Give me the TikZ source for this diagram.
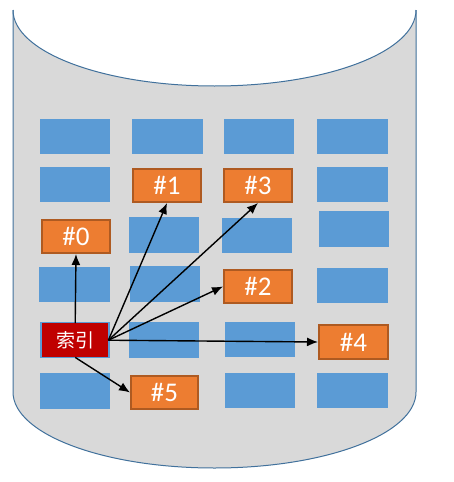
\documentclass[tikz,border=0pt]{standalone}
\usepackage{fontspec}
\setmainfont{Carlito}
\newfontfamily\cjk{Noto Sans CJK SC}
\usetikzlibrary{arrows.meta}
\definecolor{cylgray}{HTML}{D9D9D9}
\definecolor{cylline}{HTML}{41719C}
\definecolor{blk}{HTML}{5B9BD5}
\definecolor{org}{HTML}{ED7D31}
\definecolor{orgline}{HTML}{AE5A21}
\definecolor{idxred}{HTML}{C00000}
\tikzset{
  cell/.style={fill=blk, draw=none, anchor=north west, inner sep=0pt, minimum width=70pt, minimum height=35pt},
  hit/.style={fill=org, draw=orgline, line width=2pt, anchor=north west, inner sep=0pt, minimum width=68pt, minimum height=33pt, text=white, font=\fontsize{27}{30}\selectfont},
  idxbox/.style={fill=idxred, draw=none, anchor=north west, inner sep=0pt, minimum width=66pt, minimum height=34pt, text=white, font=\cjk\fontsize{19}{22}\selectfont},
  ptr/.style={-{Latex[length=11pt,width=9pt]}, line width=1.4pt, black}
}
\begin{document}
\begin{tikzpicture}[x=1pt,y=-1pt]
\useasboundingbox (0,0) rectangle (453,482);
% cylinder
\fill[cylgray] (13,10) -- (13,392) arc[start angle=180,end angle=360,x radius=201.5pt,y radius=76pt] -- (416,10) arc[start angle=0,end angle=-180,x radius=201.5pt,y radius=76pt] -- cycle;
\draw[cylline, line width=1pt] (13,10) -- (13,392) arc[start angle=180,end angle=360,x radius=201.5pt,y radius=76pt] -- (416,10);
\draw[cylline, line width=1pt] (416,10) arc[start angle=0,end angle=-180,x radius=201.5pt,y radius=76pt];
% row 1
\node[cell] (c11) at (40,119) {};
\node[cell, minimum width=71pt] (c12) at (132,119) {};
\node[cell] (c13) at (224,119) {};
\node[cell, minimum width=71pt] (c14) at (317,119) {};
% row 2
\node[cell] (c21) at (40,167) {};
\node[hit] (n1) at (132,168) {\#1};
\node[hit] (n3) at (223,168) {\#3};
\node[cell, minimum width=71pt] (c24) at (317,167) {};
% row 3
\node[hit] (n0) at (41,219) {\#0};
\node[cell, minimum height=36pt] (c32) at (129,217) {};
\node[cell] (c33) at (222,218) {};
\node[cell, minimum height=36pt] (c34) at (319,211) {};
% row 4
\node[cell, minimum width=71pt] (c41) at (39,267) {};
\node[cell, minimum height=36pt] (c42) at (130,266) {};
\node[hit] (n2) at (223,269) {\#2};
\node[cell, minimum width=71pt] (c44) at (317,268) {};
% row 5
\node[cell, minimum height=36pt] (c51) at (40,322) {};
\node[idxbox] (idx) at (42,323) {索引};
\node[cell, minimum height=36pt] (c52) at (129,322) {};
\node[cell] (c53) at (225,322) {};
\node[hit, minimum width=69pt, minimum height=34pt] (n4) at (318,324) {\#4};
% row 6
\node[cell, minimum height=36pt] (c61) at (40,373) {};
\node[hit, minimum width=67pt] (n5) at (130,375) {\#5};
\node[cell] (c63) at (225,373) {};
\node[cell, minimum width=71pt] (c64) at (317,373) {};
% pointers
\draw[ptr] (idx.north) -- (n0.south);
\draw[ptr] (idx.east) -- (n1.south);
\draw[ptr] (idx.east) -- (n3.south);
\draw[ptr] (idx.east) -- (n2.west);
\draw[ptr] (idx.east) -- (n4.west);
\draw[ptr] (idx.south) -- (n5.west);
\end{tikzpicture}
\end{document}
